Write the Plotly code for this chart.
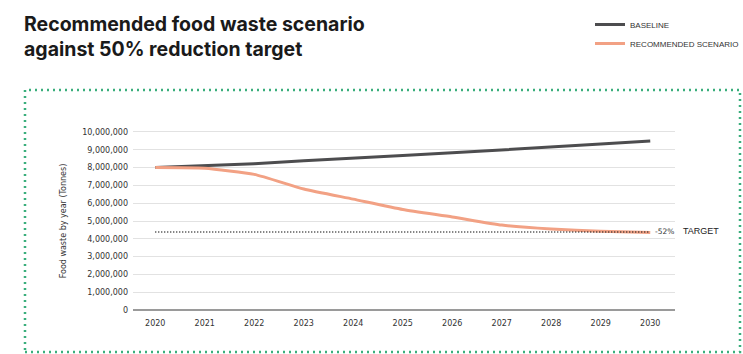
import plotly.graph_objects as go

years = [2020, 2021, 2022, 2023, 2024, 2025, 2026, 2027, 2028, 2029, 2030]
baseline = [8000000, 8100000, 8220000, 8380000, 8550000, 8680000, 8830000, 8980000, 9150000, 9320000, 9500000]
recommended = [8000000, 7960000, 7620000, 6800000, 6230000, 5650000, 5230000, 4770000, 4550000, 4430000, 4350000]
target_value = 4380000
y_ticks = list(range(0, 10000001, 1000000))

W, H = 743, 354
ML, MR, MT, MB = 133, 68, 130, 42
PW, PH = W - ML - MR, H - MT - MB

def px_x(px):
    return (px - ML) / PW

def px_y(py):
    return (H - MB - py) / PH

fig = go.Figure()
fig.add_trace(go.Scatter(x=years, y=baseline, mode="lines", name="BASELINE",
                         line=dict(color="#4d4d4f", width=3)))
fig.add_trace(go.Scatter(x=years, y=recommended, mode="lines", name="RECOMMENDED SCENARIO",
                         line=dict(color="#f2a184", width=3, shape="spline", smoothing=0.5)))
fig.add_trace(go.Scatter(x=[years[0], years[-1]], y=[target_value, target_value], mode="lines",
                         showlegend=False, line=dict(color="#222222", width=1.5, dash="1px,2px")))

fig.add_annotation(x=years[-1], y=target_value, text="-52%", showarrow=False,
                   xanchor="left", xshift=3, yshift=1, font=dict(size=7.5, color="#333",
                   family="DejaVu Sans"))
fig.add_annotation(x=years[-1], y=target_value, text="TARGET", showarrow=False,
                   xanchor="left", xshift=31, yshift=1, font=dict(size=9, color="#222",
                   family="Liberation Sans Narrow, Liberation Sans"))

# title
fig.add_annotation(xref="paper", yref="paper", x=px_x(22), y=px_y(10),
                   xanchor="left", yanchor="top", align="left", showarrow=False,
                   text="Recommended food waste scenario<br>against 50% reduction target",
                   font=dict(family="Inter", size=19.5, color="#1a1a1a", weight=700))

# dotted green frame
fig.add_shape(type="rect", xref="paper", yref="paper",
              x0=px_x(25), x1=px_x(740), y0=px_y(352), y1=px_y(90),
              line=dict(color="#3aae7c", width=2.5, dash="2px,4px"), layer="below")

fig.update_layout(
    width=W, height=H,
    margin=dict(l=ML, r=MR, t=MT, b=MB, autoexpand=False),
    paper_bgcolor="white", plot_bgcolor="white",
    legend=dict(xref="container", yref="container", x=590 / W, y=1 - 10 / H,
                xanchor="left", yanchor="top",
                font=dict(size=8, color="#333", family="Liberation Sans Narrow, Liberation Sans"),
                bgcolor="rgba(0,0,0,0)", tracegroupgap=0),
    font=dict(family="DejaVu Sans", color="#333"),
)
fig.update_xaxes(range=[2019.55, 2030.5], tickvals=years, showgrid=False, zeroline=False,
                 showline=False, ticks="", ticklabelstandoff=5,
                 tickfont=dict(size=8, color="#333", family="DejaVu Sans"))
fig.update_yaxes(range=[-112000, 10112000], tickvals=y_ticks, tickformat=",d",
                 showgrid=True, gridcolor="#e2e2e2", gridwidth=1,
                 zeroline=True, zerolinecolor="#9a9a9a", zerolinewidth=2,
                 ticks="", ticklabelstandoff=4,
                 tickfont=dict(size=8, color="#333", family="DejaVu Sans"),
                 title=dict(text="Food waste by year (Tonnes)",
                            font=dict(size=8, color="#333", family="DejaVu Sans"),
                            standoff=14))

fig.write_html("out.html")
